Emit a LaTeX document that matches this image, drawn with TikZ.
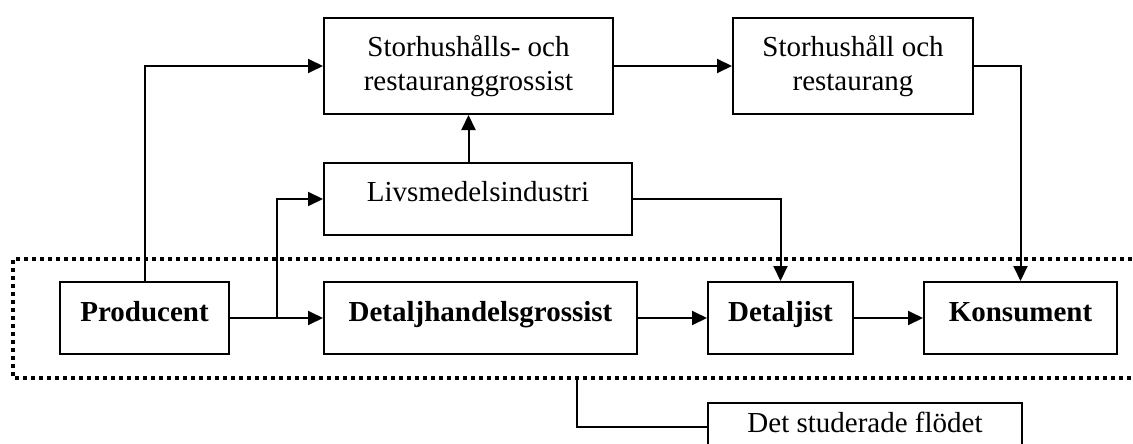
\documentclass[tikz,border=0pt]{standalone}
\usepackage{fontspec}
\setmainfont{Liberation Serif}
\usetikzlibrary{arrows.meta}
\begin{document}
\begin{tikzpicture}[x=1pt,y=-1pt,
  box/.style={draw,line width=2pt,inner sep=0pt,font=\fontsize{29}{33}\selectfont},
  bbox/.style={box,font=\fontsize{29}{33}\selectfont\bfseries},
  flow/.style={line width=2pt,-{Triangle[length=15pt,width=14pt]}},
  link/.style={line width=2pt},
  border/.style={line width=3.5pt,dash pattern=on 4pt off 4pt}]
\clip (0,0) rectangle (1133,444);

% dotted frame around the studied flow (open to the right)
\coordinate (fr-tr) at (1140,259);
\coordinate (fr-tl) at (13,259);
\coordinate (fr-bl) at (13,378);
\coordinate (fr-br) at (1140,378);
\draw[border] (fr-tr) -- (fr-tl) -- (fr-bl) -- (fr-br);

% upper boxes (base anchor sits on the last text line)
\node[box,align=center,minimum width=289pt,text height=72pt,text depth=24pt,anchor=base]
  (srg) at (468.5,90) {Storhushålls- och\\restauranggrossist};
\node[box,align=center,minimum width=240pt,text height=72pt,text depth=24pt,anchor=base]
  (sr) at (853,90) {Storhushåll och\\restaurang};
\node[box,minimum width=308pt,text height=38pt,text depth=34pt,anchor=base]
  (livs) at (478,201) {Livsmedelsindustri};

% main chain
\node[bbox,minimum width=169pt,text height=39pt,text depth=33pt,anchor=base]
  (prod) at (144.5,321) {Producent};
\node[bbox,minimum width=313pt,text height=39pt,text depth=33pt,anchor=base]
  (dhg) at (480.5,321) {Detaljhandelsgrossist};
\node[bbox,minimum width=145pt,text height=39pt,text depth=33pt,anchor=base]
  (detj) at (780.5,321) {Detaljist};
\node[bbox,minimum width=193pt,text height=39pt,text depth=33pt,anchor=base]
  (kons) at (1020.5,321) {Konsument};

% legend
\node[box,minimum width=314pt,text height=29pt,text depth=18pt,anchor=base]
  (note) at (865,432) {Det studerade flödet};

% connectors
\coordinate (split) at (277,318);
\coordinate (tap) at (577,378);
\draw[link] (prod.east) -- (split);
\draw[flow] (split) -- (dhg.west);
\draw[flow] (split) |- (livs.west);
\draw[flow] (prod.north) |- (srg.west);
\draw[flow] (livs.north -| srg.south) -- (srg.south);
\draw[flow] (srg.east) -- (sr.west);
\draw[flow] (sr.east) -| (kons.north);
\draw[flow] (livs.east) -| (detj.north);
\draw[flow] (dhg.east) -- (detj.west);
\draw[flow] (detj.east) -- (kons.west);
\draw[link] (tap) |- (note.west);
\end{tikzpicture}
\end{document}
